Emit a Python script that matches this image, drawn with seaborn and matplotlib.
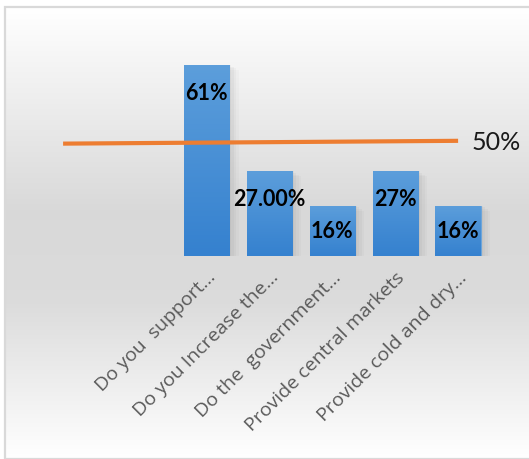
import numpy as np
import pandas as pd
import matplotlib
matplotlib.use("Agg")
import matplotlib.pyplot as plt
import seaborn as sns
from matplotlib.patches import Rectangle

# data
categories = ["Do you  support…", "Do you Increase the…", "Do the  government…",
              "Provide central markets", "Provide cold and dry…"]
values = [61, 27, 16, 27, 16]
value_labels = ["61%", "27.00%", "16%", "27%", "16%"]
ref_line_x = [-2.28, 4.0]
ref_line_y = [35.9, 36.8]
ref_label = "50%"

df = pd.DataFrame({"question": categories, "pct": values})

sns.set_theme(style="white")
plt.rcParams["font.family"] = ["Lato", "DejaVu Sans"]

W, H = 529, 459
fig = plt.figure(figsize=(W / 100, H / 100), dpi=100)
fig.patch.set_facecolor("white")

# background gradient (white -> grey -> white)
bg = fig.add_axes([0.012, 0, 0.988, 1 - 8 / H], zorder=0)
stops_y = np.array([0.0, 0.45, 0.65, 1.0])
stops_c = np.array([[1.0, 1.0, 1.0], [0.85, 0.85, 0.85], [0.86, 0.86, 0.86], [1.0, 1.0, 1.0]])
t = np.linspace(0, 1, 256)
grad = np.stack([np.interp(t, stops_y, stops_c[:, k]) for k in range(3)], axis=-1)
bg.imshow(grad[:, None, :], aspect="auto", extent=[0, 1, 1, 0])
bg.set_axis_off()
fig.patches.append(Rectangle((5 / W, 0), 1, 1 - 7 / H, transform=fig.transFigure,
                             fill=False, edgecolor="#d9d9d9", lw=1.6, zorder=5))

# main axes: zero at y=256px, 3.13 px per percent, 62.9 px per category
bottom = (H - 256) / H
ax = fig.add_axes([0, bottom, 1, 1 - bottom], zorder=1)
ax.patch.set_alpha(0)
ppu_y = 3.13
ppu_x = 62.9

# soft shadow behind the bars
for k, a in enumerate([0.035, 0.03, 0.025, 0.02]):
    off = 0.03 + k * 0.025
    ax.bar(np.arange(len(values)) + off, values, width=0.72 + k * 0.03,
           bottom=-k * 0.5, color="black", alpha=a, zorder=1, lw=0)

sns.barplot(data=df, x="question", y="pct", color="#3f87d0", width=0.72,
            saturation=1, ax=ax, zorder=2)

# vertical gradient inside each bar (lighter at the top)
bar_grad = np.linspace(0, 1, 100)[:, None]
cmap = matplotlib.colors.LinearSegmentedColormap.from_list("b", ["#5c9edb", "#3581cf"])
for p in ax.patches[-len(values):]:
    x0, y0 = p.get_x(), p.get_y()
    im = ax.imshow(bar_grad, cmap=cmap, aspect="auto", zorder=2.5, origin="upper",
                   extent=[x0, x0 + p.get_width(), y0, y0 + p.get_height()])
    im.set_clip_path(p)
    p.set_edgecolor("#6aa6de")
    p.set_linewidth(0.6)
ax.set_xlim(-206.5 / ppu_x, (W - 206.5) / ppu_x)
ax.set_ylim(0, 256 / ppu_y)

label_pos = [(0, 52.0), (1, 18.0), (2, 7.7), (3, 18.0), (4, 7.7)]
for (x, y), s in zip(label_pos, value_labels):
    ax.text(x, y, s, ha="center", va="center", fontsize=15.5, fontweight="bold",
            color="black", zorder=4)

ax.plot(ref_line_x, ref_line_y, color="#ed7d31", lw=3, zorder=3, solid_capstyle="butt")
ax.text(4.22, 36.3, ref_label, ha="left", va="center", fontsize=18, color="#1a1a1a")

ax.set_xticks(range(len(categories)))
ax.set_xticklabels(categories, rotation=45, ha="right", va="top",
                   rotation_mode="anchor", fontsize=14, color="#595959",
                   fontfamily=["Open Sans", "DejaVu Sans"])
ax.tick_params(axis="x", length=0, pad=9)
ax.set_yticks([])
ax.set_xlabel("")
ax.set_ylabel("")
for s in ax.spines.values():
    s.set_visible(False)

fig.savefig("out.png", dpi=100)
